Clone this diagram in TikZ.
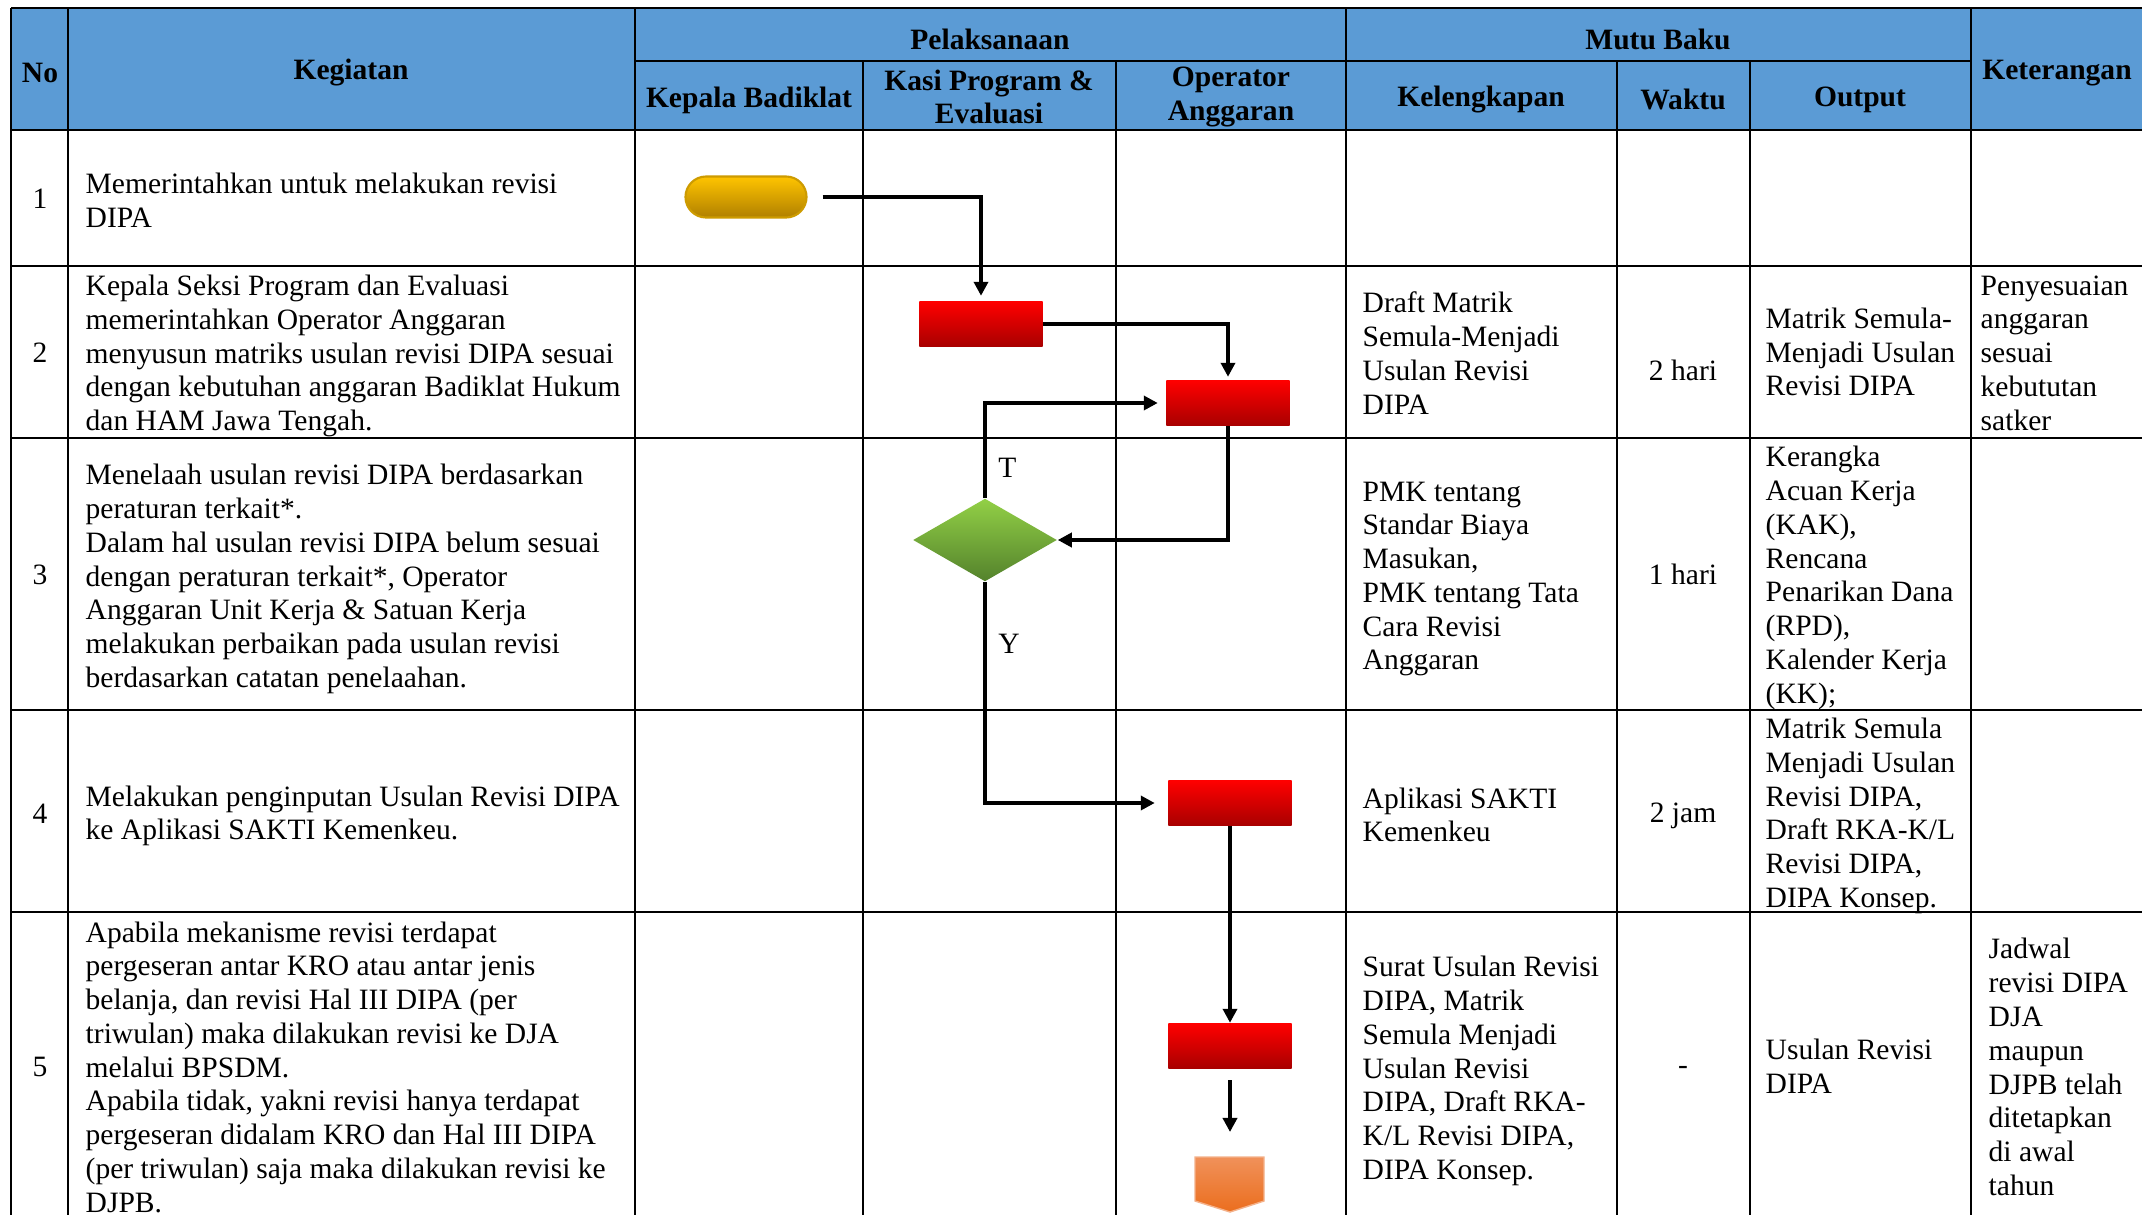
\documentclass[tikz,border=0pt]{standalone}
\usepackage{fontspec}
\setmainfont{Liberation Serif}
\usepackage{tikz}
\usetikzlibrary{arrows.meta,shapes.geometric,shapes.misc}
\usepackage{xcolor}
\definecolor{header-blue}{RGB}{91,155,213}
\definecolor{dark-red}{RGB}{168,0,0}
\definecolor{gold-top}{RGB}{255,196,0}
\definecolor{gold-bottom}{RGB}{176,128,0}
\definecolor{gold-line}{RGB}{205,155,0}
\definecolor{green-top}{RGB}{146,208,70}
\definecolor{green-bottom}{RGB}{84,130,44}
\definecolor{orange-top}{RGB}{240,145,90}
\definecolor{orange-bottom}{RGB}{235,110,30}
\tikzstyle{cell}=[inner sep=0pt, align=left]
\tikzstyle{cellc}=[inner sep=0pt, align=center]
\tikzstyle{head}=[cellc, font=\fontsize{8.4}{9.6}\selectfont\bfseries]
\tikzstyle{grid}=[line width=0.6pt]
\tikzstyle{process}=[rectangle, top color=red, bottom color=dark-red, minimum width=1.23cm, minimum height=0.45cm, inner sep=0pt]
\tikzstyle{terminal}=[rounded rectangle, draw=gold-line, line width=0.6pt, top color=gold-top, bottom color=gold-bottom, minimum width=1.21cm, minimum height=0.41cm, inner sep=0pt]
\tikzstyle{decision}=[diamond, top color=green-top, bottom color=green-bottom, minimum width=1.44cm, minimum height=0.83cm, inner sep=0pt]
\tikzstyle{flow}=[line width=1pt, -{Triangle[length=0.14cm,width=0.14cm]}]
\newcommand{\rowNo}[3]{
	\node[cellc] (#1) at (40,#2) {#3};
}

\begin{document}
\begin{tikzpicture}[x=0.01cm, y=-0.01cm, font=\fontsize{8.4}{9.6}\selectfont]
	\useasboundingbox (0,0) rectangle (2142,1215);
	\clip (0,0) rectangle (2142,1215);
	\fill[white] (0,0) rectangle (2142,1215);
	\fill[header-blue] (11,8) rectangle (2160,130);
	% garis tabel
	\foreach \x in {11,68,635,1346,1971}
		\draw[grid] (\x,8) -- (\x,1230);
	\foreach \x in {863,1116,1617,1750}
		\draw[grid] (\x,61) -- (\x,1230);
	\foreach \y in {8,130,266,438,710,912}
		\draw[grid] (11,\y) -- (2160,\y);
	\draw[grid] (635,61) -- (1971,61);

	% header
	\node[head] (hNo) at (40,73) {No};
	\node[head] (hKeg) at (351,73) {Kegiatan};
	\node[head] (hPel) at (990,39) {Pelaksanaan};
	\node[head] (hMutu) at (1658,39) {Mutu Baku};
	\node[head] (hKet) at (2057,73) {Keterangan};
	\node[head] (hKepala) at (749,100) {Kepala Badiklat};
	\node[head] (hKasi) at (989,97) {Kasi Program \&\\Evaluasi};
	\node[head] (hOp) at (1231,97) {Operator\\Anggaran};
	\node[head] (hKel) at (1481,100) {Kelengkapan};
	\node[head] (hWaktu) at (1683,99) {Waktu};
	\node[head] (hOut) at (1860,100) {Output};

	% nomor
	\rowNo{no1}{199}{1}
	\rowNo{no2}{353}{2}
	\rowNo{no3}{575}{3}
	\rowNo{no4}{814}{4}
	\rowNo{no5}{1067}{5}

	% kegiatan
	\node[cell, anchor=west] (keg1) at (85,200) {Memerintahkan untuk melakukan revisi\\DIPA};
	\node[cell, anchor=west] (keg2) at (85,356) {Kepala Seksi Program dan Evaluasi\\memerintahkan Operator Anggaran\\menyusun matriks usulan revisi DIPA sesuai\\dengan kebutuhan anggaran Badiklat Hukum\\dan HAM Jawa Tengah.};
	\node[cell, anchor=west] (keg3) at (85,579) {Menelaah usulan revisi DIPA berdasarkan\\peraturan terkait*.\\Dalam hal usulan revisi DIPA belum sesuai\\dengan peraturan terkait*, Operator\\Anggaran Unit Kerja \& Satuan Kerja\\melakukan perbaikan pada usulan revisi\\berdasarkan catatan penelaahan.};
	\node[cell, anchor=west] (keg4) at (85,816) {Melakukan penginputan Usulan Revisi DIPA\\ke Aplikasi SAKTI Kemenkeu.};
	\node[cell, anchor=west] (keg5) at (85,1067) {Apabila mekanisme revisi terdapat\\pergeseran antar KRO atau antar jenis\\belanja, dan revisi Hal III DIPA (per\\triwulan) maka dilakukan revisi ke DJA\\melalui BPSDM.\\Apabila tidak, yakni revisi hanya terdapat\\pergeseran didalam KRO dan Hal III DIPA\\(per triwulan) saja maka dilakukan revisi ke\\DJPB.};

	% mutu baku
	\node[cell, anchor=west] (kel2) at (1362,353) {Draft Matrik\\Semula-Menjadi\\Usulan Revisi\\DIPA};
	\node[cell, anchor=west] (kel3) at (1362,579) {PMK tentang\\Standar Biaya\\Masukan,\\PMK tentang Tata\\Cara Revisi\\Anggaran};
	\node[cell, anchor=west] (kel4) at (1362,815) {Aplikasi SAKTI\\Kemenkeu};
	\node[cell, anchor=west] (kel5) at (1362,1071) {Surat Usulan Revisi\\DIPA, Matrik\\Semula Menjadi\\Usulan Revisi\\DIPA, Draft RKA-\\K/L Revisi DIPA,\\DIPA Konsep.};
	\node[cellc] (w2) at (1683,370) {2 hari};
	\node[cellc] (w3) at (1683,574) {1 hari};
	\node[cellc] (w4) at (1683,816) {2 jam};
	\node[cellc] (w5) at (1683,1070) {-};
	\node[cell, anchor=west] (out2) at (1765,352) {Matrik Semula-\\Menjadi Usulan\\Revisi DIPA};
	\node[cell, anchor=west] (out3) at (1765,578) {Kerangka\\Acuan Kerja\\(KAK),\\Rencana\\Penarikan Dana\\(RPD),\\Kalender Kerja\\(KK);};
	\node[cell, anchor=west] (out4) at (1765,816) {Matrik Semula\\Menjadi Usulan\\Revisi DIPA,\\Draft RKA-K/L\\Revisi DIPA,\\DIPA Konsep.};
	\node[cell, anchor=west] (out5) at (1765,1066) {Usulan Revisi\\DIPA};
	\node[cell, anchor=west] (ket2) at (1980,353) {Penyesuaian\\anggaran\\sesuai\\kebututan\\satker};
	\node[cell, anchor=west] (ket5) at (1988,1067) {Jadwal\\revisi DIPA\\DJA\\maupun\\DJPB telah\\ditetapkan\\di awal\\tahun};

	% alur
	\node[terminal] (mulai) at (746,197) {};
	\node[process] (kasi) at (981,324) {};
	\node[process] (opA) at (1228,403) {};
	\node[decision] (cek) at (985,540) {};
	\node[process] (opB) at (1230,803) {};
	\node[process] (opC) at (1230,1046) {};
	\shade[top color=orange-top, bottom color=orange-bottom, draw=orange-top!70!white, line width=0.4pt] (1195,1157) -- (1264,1157) -- (1264,1201) -- (1230,1212) -- (1195,1201) -- cycle;
	\coordinate (keluar) at (1230,1157);

	\draw[flow, shorten <=0.15cm, shorten >=0.05cm] (mulai.east) -| (kasi.north);
	\draw[flow, shorten >=0.03cm] (kasi.east) -| (opA.north);
	\draw[flow, shorten >=0.08cm] (cek.north) |- node[pos=0.16, right] (labT) {T} (opA.west);
	\draw[flow] (opA.south) |- (cek.east);
	\draw[flow, shorten >=0.13cm] (cek.south) |- node[pos=0.14, right] (labY) {Y} (opB.west);
	\draw[flow] (opB.south) -- (opC.north);
	\draw[flow, shorten <=0.11cm, shorten >=0.25cm] (opC.south) -- (keluar);
\end{tikzpicture}
\end{document}
